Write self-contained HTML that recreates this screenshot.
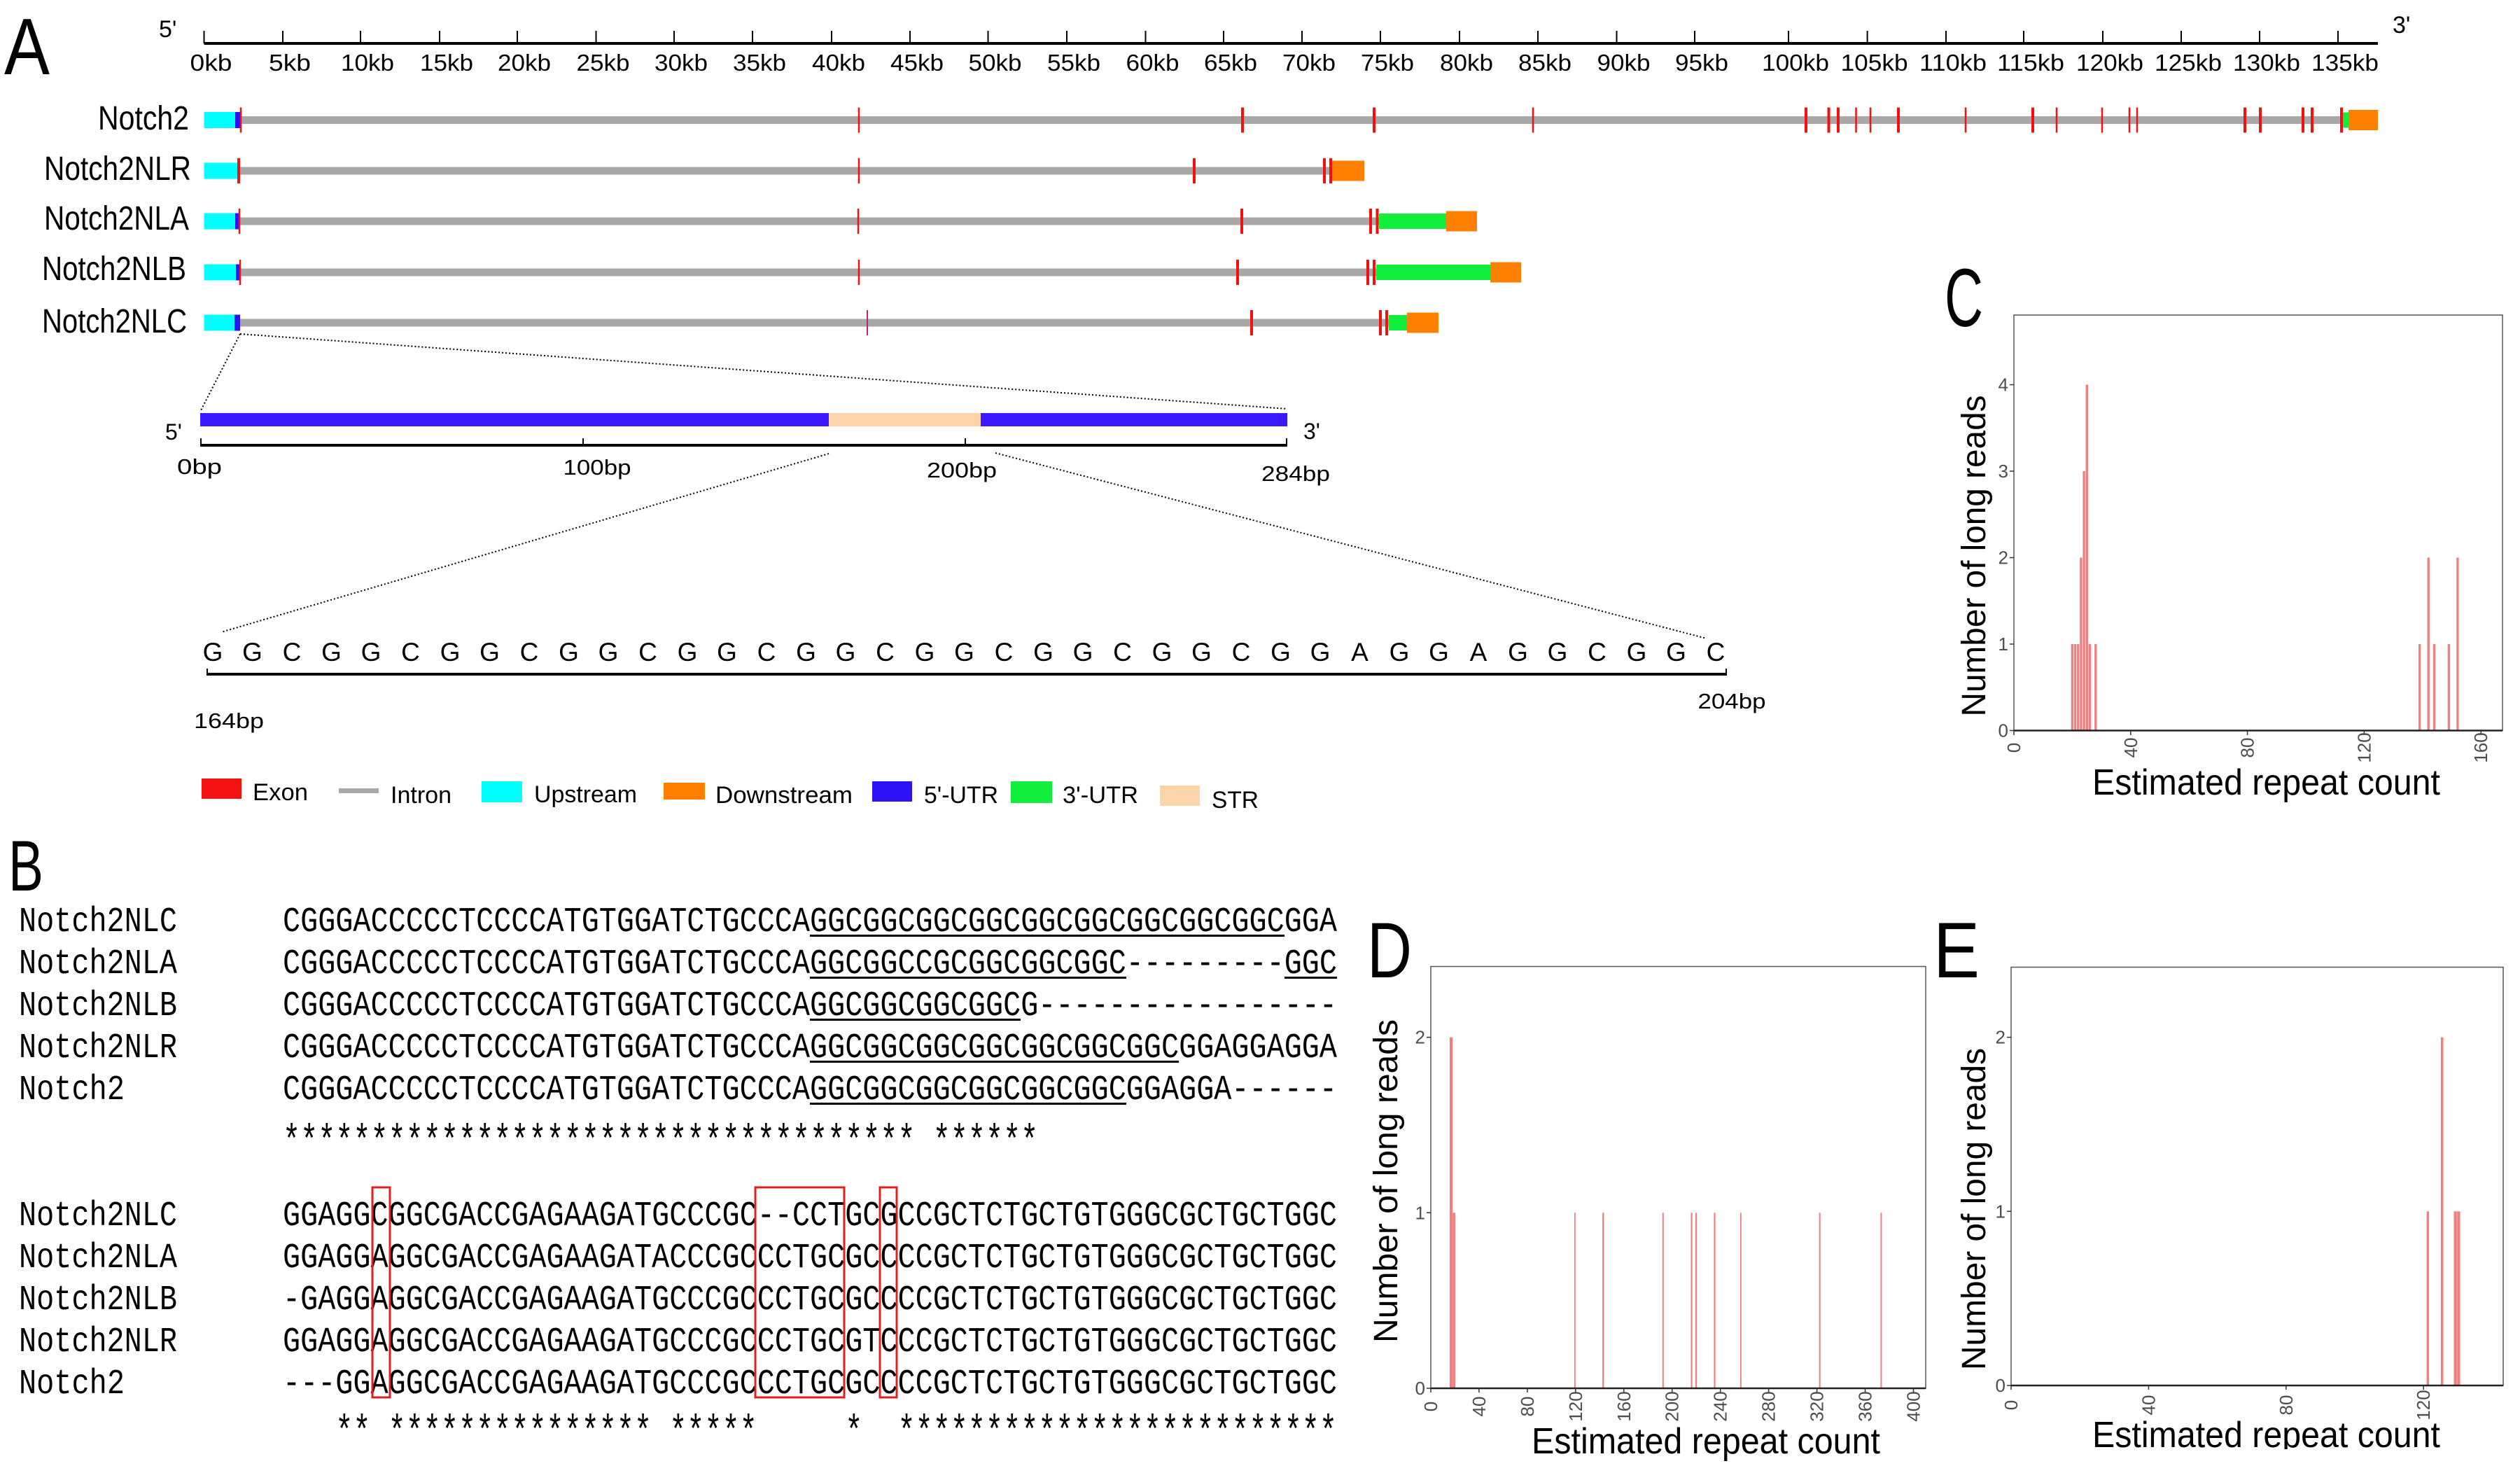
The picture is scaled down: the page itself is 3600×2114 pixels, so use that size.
<!DOCTYPE html>
<html><head><meta charset="utf-8">
<style>html,body{margin:0;padding:0;background:#fff}svg{display:block}</style>
</head><body>
<svg width="3600" height="2114" viewBox="0 0 3600 2114" xmlns="http://www.w3.org/2000/svg" font-family="'Liberation Sans', Arial, sans-serif">
<rect width="3600" height="2114" fill="#fff"/>

<!-- ============ PANEL A ============ -->
<text x="6" y="106" font-size="114" textLength="65" lengthAdjust="spacingAndGlyphs">A</text>
<text x="227" y="53" font-size="34">5'</text>
<text x="3418" y="47" font-size="34">3'</text>
<line x1="291.5" y1="62" x2="3397" y2="62" stroke="#000" stroke-width="4"/>
<path d="M291.5 44V62M404 44V62M515 44V62M628 44V62M739 44V62M851.5 44V62M963 44V62M1075 44V62M1188 44V62M1300 44V62M1411.5 44V62M1524 44V62M1636.5 44V62M1748 44V62M1860 44V62M1972 44V62M2085 44V62M2197 44V62M2309.5 44V62M2421 44V62M2555 44V62M2667.6 44V62M2780 44V62M2891 44V62M3004 44V62M3116 44V62M3228 44V62M3340 44V62" stroke="#000" stroke-width="2" fill="none"/>
<g font-size="33" text-anchor="middle">
<text x="301.5" y="101" textLength="60" lengthAdjust="spacingAndGlyphs">0kb</text>
<text x="414" y="101" textLength="60" lengthAdjust="spacingAndGlyphs">5kb</text>
<text x="525" y="101" textLength="76" lengthAdjust="spacingAndGlyphs">10kb</text>
<text x="638" y="101" textLength="76" lengthAdjust="spacingAndGlyphs">15kb</text>
<text x="749" y="101" textLength="76" lengthAdjust="spacingAndGlyphs">20kb</text>
<text x="861.5" y="101" textLength="76" lengthAdjust="spacingAndGlyphs">25kb</text>
<text x="973" y="101" textLength="76" lengthAdjust="spacingAndGlyphs">30kb</text>
<text x="1085" y="101" textLength="76" lengthAdjust="spacingAndGlyphs">35kb</text>
<text x="1198" y="101" textLength="76" lengthAdjust="spacingAndGlyphs">40kb</text>
<text x="1310" y="101" textLength="76" lengthAdjust="spacingAndGlyphs">45kb</text>
<text x="1421.5" y="101" textLength="76" lengthAdjust="spacingAndGlyphs">50kb</text>
<text x="1534" y="101" textLength="76" lengthAdjust="spacingAndGlyphs">55kb</text>
<text x="1646.5" y="101" textLength="76" lengthAdjust="spacingAndGlyphs">60kb</text>
<text x="1758" y="101" textLength="76" lengthAdjust="spacingAndGlyphs">65kb</text>
<text x="1870" y="101" textLength="76" lengthAdjust="spacingAndGlyphs">70kb</text>
<text x="1982" y="101" textLength="76" lengthAdjust="spacingAndGlyphs">75kb</text>
<text x="2095" y="101" textLength="76" lengthAdjust="spacingAndGlyphs">80kb</text>
<text x="2207" y="101" textLength="76" lengthAdjust="spacingAndGlyphs">85kb</text>
<text x="2319.5" y="101" textLength="76" lengthAdjust="spacingAndGlyphs">90kb</text>
<text x="2431" y="101" textLength="76" lengthAdjust="spacingAndGlyphs">95kb</text>
<text x="2565" y="101" textLength="96" lengthAdjust="spacingAndGlyphs">100kb</text>
<text x="2677.6" y="101" textLength="96" lengthAdjust="spacingAndGlyphs">105kb</text>
<text x="2790" y="101" textLength="96" lengthAdjust="spacingAndGlyphs">110kb</text>
<text x="2901" y="101" textLength="96" lengthAdjust="spacingAndGlyphs">115kb</text>
<text x="3014" y="101" textLength="96" lengthAdjust="spacingAndGlyphs">120kb</text>
<text x="3126" y="101" textLength="96" lengthAdjust="spacingAndGlyphs">125kb</text>
<text x="3238" y="101" textLength="96" lengthAdjust="spacingAndGlyphs">130kb</text>
<text x="3350" y="101" textLength="96" lengthAdjust="spacingAndGlyphs">135kb</text>
</g>

<!-- gene labels -->
<g font-size="48">
<text x="140" y="185" textLength="130" lengthAdjust="spacingAndGlyphs">Notch2</text>
<text x="63" y="257" textLength="210" lengthAdjust="spacingAndGlyphs">Notch2NLR</text>
<text x="63" y="328" textLength="207" lengthAdjust="spacingAndGlyphs">Notch2NLA</text>
<text x="60" y="400" textLength="206" lengthAdjust="spacingAndGlyphs">Notch2NLB</text>
<text x="60" y="475" textLength="207" lengthAdjust="spacingAndGlyphs">Notch2NLC</text>
</g>

<!-- Notch2 row -->
<g transform="translate(0,171.5)">
<rect x="342" y="-5.5" width="3005" height="11" fill="#a8a8a8"/>
<rect x="291.5" y="-11.5" width="50.5" height="23" fill="#00ffff"/>
<rect x="336" y="-11.5" width="7" height="23" fill="#2e12f6"/>
<path d="M344 -18V18M1227 -18V18M2190 -18V18M2651.5 -18V18M2672 -18V18M2808 -18V18M2938 -18V18M3003 -18V18M3042 -18V18M3053 -18V18" stroke="#f21010" stroke-width="2.5"/>
<path d="M1775 -18V18M1963 -18V18M2580 -18V18M2612.5 -18V18M2626 -18V18M2712 -18V18M2904 -18V18M3207 -18V18M3229 -18V18M3290 -18V18M3303 -18V18M3345 -18V18" stroke="#f21010" stroke-width="4"/>
<rect x="3347" y="-11" width="8" height="22" fill="#12ee3c"/>
<rect x="3355" y="-14.5" width="42" height="29" fill="#ff8000"/>
</g>
<!-- NLR row -->
<g transform="translate(0,244)">
<rect x="342" y="-5.5" width="1561" height="11" fill="#a8a8a8"/>
<rect x="291.5" y="-11.5" width="50.5" height="23" fill="#00ffff"/>
<path d="M1227 -18V18" stroke="#f21010" stroke-width="2.5"/>
<path d="M341 -18V18M1706 -18V18M1892 -18V18M1901 -18V18" stroke="#f21010" stroke-width="4"/>
<rect x="1903" y="-14.5" width="46" height="29" fill="#ff8000"/>
</g>
<!-- NLA row -->
<g transform="translate(0,316)">
<rect x="342" y="-5.5" width="1628" height="11" fill="#a8a8a8"/>
<rect x="291.5" y="-11.5" width="50.5" height="23" fill="#00ffff"/>
<rect x="336" y="-11.5" width="7" height="23" fill="#2e12f6"/>
<path d="M342 -18V18M1226 -18V18" stroke="#f21010" stroke-width="2.5"/>
<path d="M1774 -18V18M1958 -18V18M1967.5 -18V18" stroke="#f21010" stroke-width="4"/>
<rect x="1970" y="-11" width="96" height="22" fill="#12ee3c"/>
<rect x="2066" y="-14.5" width="44" height="29" fill="#ff8000"/>
</g>
<!-- NLB row -->
<g transform="translate(0,389)">
<rect x="342" y="-5.5" width="1624" height="11" fill="#a8a8a8"/>
<rect x="291.5" y="-11.5" width="50.5" height="23" fill="#00ffff"/>
<rect x="337" y="-11.5" width="5" height="23" fill="#2e12f6"/>
<path d="M343 -18V18M1227 -18V18" stroke="#f21010" stroke-width="2.5"/>
<path d="M1768 -18V18M1954 -18V18M1963 -18V18" stroke="#f21010" stroke-width="4"/>
<rect x="1966" y="-11" width="163" height="22" fill="#12ee3c"/>
<rect x="2129" y="-14.5" width="44" height="29" fill="#ff8000"/>
</g>
<!-- NLC row -->
<g transform="translate(0,461)">
<rect x="342" y="-5.5" width="1642" height="11" fill="#a8a8a8"/>
<rect x="291.5" y="-11.5" width="44" height="23" fill="#00ffff"/>
<rect x="335" y="-11.5" width="8" height="23" fill="#2e12f6"/>
<path d="M1239 -18V18" stroke="#c02070" stroke-width="2"/>
<path d="M1788 -18V18M1972 -18V18M1981 -18V18" stroke="#f21010" stroke-width="4"/>
<rect x="1984" y="-11" width="26" height="22" fill="#12ee3c"/>
<rect x="2010" y="-14.5" width="45" height="29" fill="#ff8000"/>
</g>

<!-- dotted zoom lines -->
<path d="M343 477L286 588M343 477L1839 584M1184 648L316 903M1422 647L2438 912" stroke="#000" stroke-width="2" stroke-dasharray="2 3" fill="none"/>

<!-- 284bp bar -->
<rect x="286" y="590" width="1553" height="19" fill="#3b18ff"/>
<rect x="1184" y="590" width="217" height="19" fill="#fdd3aa"/>
<text x="236" y="628" font-size="32">5'</text>
<text x="1862" y="627" font-size="32">3'</text>
<line x1="286" y1="636" x2="1839" y2="636" stroke="#000" stroke-width="4"/>
<path d="M287 626V636M833 626V636M1379 626V636M1838 626V636" stroke="#000" stroke-width="2"/>
<g font-size="31" text-anchor="middle">
<text x="285" y="677" textLength="64" lengthAdjust="spacingAndGlyphs">0bp</text>
<text x="853" y="678" textLength="97" lengthAdjust="spacingAndGlyphs">100bp</text>
<text x="1374" y="682" textLength="100" lengthAdjust="spacingAndGlyphs">200bp</text>
<text x="1851" y="687" textLength="98" lengthAdjust="spacingAndGlyphs">284bp</text>
</g>

<!-- sequence -->
<text font-size="37" text-anchor="middle" y="944" x="304 360.5 417 473.5 530 586.5 643 699.5 756 812.5 869 925.5 982 1038.5 1095 1151.5 1208 1264.5 1321 1377.5 1434 1490.5 1547 1603.5 1660 1716.5 1773 1829.5 1886 1942.5 1999 2055.5 2112 2168.5 2225 2281.5 2338 2394.5 2451">GGCGGCGGCGGCGGCGGCGGCGGCGGCGGAGGAGGCGGC</text>
<line x1="295" y1="963" x2="2467" y2="963" stroke="#000" stroke-width="4"/>
<path d="M296 955V964M2466 955V964" stroke="#000" stroke-width="2"/>
<text x="327" y="1040" font-size="31" text-anchor="middle" textLength="100" lengthAdjust="spacingAndGlyphs">164bp</text>
<text x="2474" y="1012" font-size="31" text-anchor="middle" textLength="97" lengthAdjust="spacingAndGlyphs">204bp</text>

<!-- legend -->
<rect x="288" y="1112" width="57" height="29" fill="#f21010"/>
<text x="361" y="1143" font-size="34" textLength="79" lengthAdjust="spacingAndGlyphs">Exon</text>
<rect x="484" y="1126" width="57" height="7" fill="#a8a8a8"/>
<text x="558" y="1147" font-size="34" textLength="87" lengthAdjust="spacingAndGlyphs">Intron</text>
<rect x="688" y="1116" width="58" height="30" fill="#00ffff"/>
<text x="763" y="1146" font-size="34" textLength="147" lengthAdjust="spacingAndGlyphs">Upstream</text>
<rect x="948" y="1118" width="59" height="24" fill="#ff8000"/>
<text x="1022" y="1147" font-size="34" textLength="196" lengthAdjust="spacingAndGlyphs">Downstream</text>
<rect x="1246" y="1116" width="57" height="29" fill="#2e12f6"/>
<text x="1320" y="1147" font-size="34" textLength="106" lengthAdjust="spacingAndGlyphs">5'-UTR</text>
<rect x="1444" y="1116" width="59" height="31" fill="#12ee3c"/>
<text x="1518" y="1147" font-size="34" textLength="108" lengthAdjust="spacingAndGlyphs">3'-UTR</text>
<rect x="1657" y="1122" width="57" height="29" fill="#fdd3aa"/>
<text x="1731" y="1154" font-size="34" textLength="67" lengthAdjust="spacingAndGlyphs">STR</text>

<!-- ============ PANEL B ============ -->
<text x="12" y="1272" font-size="102" textLength="50" lengthAdjust="spacingAndGlyphs">B</text>
<g font-family="'Liberation Mono', 'DejaVu Sans Mono', monospace" font-size="50">
<text x="27" y="1330" textLength="226" lengthAdjust="spacingAndGlyphs">Notch2NLC</text>
<text x="27" y="1390" textLength="226" lengthAdjust="spacingAndGlyphs">Notch2NLA</text>
<text x="27" y="1450" textLength="226" lengthAdjust="spacingAndGlyphs">Notch2NLB</text>
<text x="27" y="1510" textLength="226" lengthAdjust="spacingAndGlyphs">Notch2NLR</text>
<text x="27" y="1570" textLength="151" lengthAdjust="spacingAndGlyphs">Notch2</text>
<text x="404" y="1330" textLength="1506" lengthAdjust="spacingAndGlyphs">CGGGACCCCCTCCCCATGTGGATCTGCCCAGGCGGCGGCGGCGGCGGCGGCGGCGGCGGA</text>
<text x="404" y="1390" textLength="1506" lengthAdjust="spacingAndGlyphs">CGGGACCCCCTCCCCATGTGGATCTGCCCAGGCGGCCGCGGCGGCGGC---------GGC</text>
<text x="404" y="1450" textLength="1506" lengthAdjust="spacingAndGlyphs">CGGGACCCCCTCCCCATGTGGATCTGCCCAGGCGGCGGCGGCG-----------------</text>
<text x="404" y="1510" textLength="1506" lengthAdjust="spacingAndGlyphs">CGGGACCCCCTCCCCATGTGGATCTGCCCAGGCGGCGGCGGCGGCGGCGGCGGAGGAGGA</text>
<text x="404" y="1570" textLength="1506" lengthAdjust="spacingAndGlyphs">CGGGACCCCCTCCCCATGTGGATCTGCCCAGGCGGCGGCGGCGGCGGCGGAGGA------</text>

<text x="27" y="1750" textLength="226" lengthAdjust="spacingAndGlyphs">Notch2NLC</text>
<text x="27" y="1810" textLength="226" lengthAdjust="spacingAndGlyphs">Notch2NLA</text>
<text x="27" y="1870" textLength="226" lengthAdjust="spacingAndGlyphs">Notch2NLB</text>
<text x="27" y="1930" textLength="226" lengthAdjust="spacingAndGlyphs">Notch2NLR</text>
<text x="27" y="1990" textLength="151" lengthAdjust="spacingAndGlyphs">Notch2</text>
<text x="404" y="1750" textLength="1506" lengthAdjust="spacingAndGlyphs">GGAGGCGGCGACCGAGAAGATGCCCGC--CCTGCGCCGCTCTGCTGTGGGCGCTGCTGGC</text>
<text x="404" y="1810" textLength="1506" lengthAdjust="spacingAndGlyphs">GGAGGAGGCGACCGAGAAGATACCCGCCCTGCGCCCCGCTCTGCTGTGGGCGCTGCTGGC</text>
<text x="404" y="1870" textLength="1506" lengthAdjust="spacingAndGlyphs">-GAGGAGGCGACCGAGAAGATGCCCGCCCTGCGCCCCGCTCTGCTGTGGGCGCTGCTGGC</text>
<text x="404" y="1930" textLength="1506" lengthAdjust="spacingAndGlyphs">GGAGGAGGCGACCGAGAAGATGCCCGCCCTGCGTCCCGCTCTGCTGTGGGCGCTGCTGGC</text>
<text x="404" y="1990" textLength="1506" lengthAdjust="spacingAndGlyphs">---GGAGGCGACCGAGAAGATGCCCGCCCTGCGCCCCGCTCTGCTGTGGGCGCTGCTGGC</text>
</g>
<g font-family="'Liberation Mono', 'DejaVu Sans Mono', monospace" font-size="60">
<text x="404" y="1648" textLength="903.6" lengthAdjust="spacingAndGlyphs">************************************</text>
<text x="1332.7" y="1648" textLength="150.6" lengthAdjust="spacingAndGlyphs">******</text>
<text x="479.3" y="2063" textLength="50.2" lengthAdjust="spacingAndGlyphs">**</text>
<text x="554.6" y="2063" textLength="376.5" lengthAdjust="spacingAndGlyphs">***************</text>
<text x="956.2" y="2063" textLength="125.5" lengthAdjust="spacingAndGlyphs">*****</text>
<text x="1207.2" y="2063" textLength="25.1" lengthAdjust="spacingAndGlyphs">*</text>
<text x="1282.5" y="2063" textLength="627.5" lengthAdjust="spacingAndGlyphs">*************************</text>
</g>
<!-- underlines -->
<g fill="#000">
<rect x="1157" y="1335" width="678" height="3"/>
<rect x="1157" y="1395" width="452" height="3"/>
<rect x="1835" y="1395" width="75" height="3"/>
<rect x="1157" y="1455" width="301" height="3"/>
<rect x="1157" y="1515" width="527" height="3"/>
<rect x="1157" y="1575" width="452" height="3"/>
</g>
<!-- red boxes -->
<g fill="none" stroke="#e02020" stroke-width="3">
<rect x="532" y="1696" width="25" height="300"/>
<rect x="1079" y="1696" width="127" height="300"/>
<rect x="1257" y="1696" width="24" height="300"/>
</g>

<!-- ============ PANEL C ============ -->
<text x="2778" y="466" font-size="118" textLength="55" lengthAdjust="spacingAndGlyphs">C</text>
<g fill="#f08080">
<rect x="2958.7" y="920" width="3.4" height="123.5"/>
<rect x="2962.9" y="920" width="3.4" height="123.5"/>
<rect x="2967.1" y="920" width="3.4" height="123.5"/>
<rect x="2971.2" y="796.5" width="3.4" height="247"/>
<rect x="2975.4" y="673" width="3.4" height="370.5"/>
<rect x="2979.6" y="549.5" width="3.4" height="494"/>
<rect x="2983.8" y="920" width="3.4" height="123.5"/>
<rect x="2992.1" y="920" width="3.4" height="123.5"/>
<rect x="3455" y="920" width="3.4" height="123.5"/>
<rect x="3467.5" y="796.5" width="3.4" height="247"/>
<rect x="3475.8" y="920" width="3.4" height="123.5"/>
<rect x="3496.7" y="920" width="3.4" height="123.5"/>
<rect x="3509.2" y="796.5" width="3.4" height="247"/>
</g>
<rect x="2877" y="450" width="698" height="593.5" fill="none" stroke="#555" stroke-width="1.5"/>
<line x1="2877" y1="1043.5" x2="3575" y2="1043.5" stroke="#222" stroke-width="2.5"/>
<path d="M2871 1043.5H2877M2871 920H2877M2871 796.5H2877M2871 673H2877M2871 549.5H2877M2877 1043.5V1050M3043.8 1043.5V1050M3210.6 1043.5V1050M3377.4 1043.5V1050M3544.2 1043.5V1050" stroke="#333" stroke-width="1.5"/>
<g font-size="26" fill="#4d4d4d">
<g text-anchor="end">
<text x="2869" y="1052.5">0</text>
<text x="2869" y="929">1</text>
<text x="2869" y="805.5">2</text>
<text x="2869" y="682">3</text>
<text x="2869" y="558.5">4</text>
</g>
<g text-anchor="middle">
<text transform="translate(2886,1068) rotate(-90)">0</text>
<text transform="translate(3052.8,1068) rotate(-90)">40</text>
<text transform="translate(3219.6,1068) rotate(-90)">80</text>
<text transform="translate(3386.4,1068) rotate(-90)">120</text>
<text transform="translate(3553.2,1068) rotate(-90)">160</text>
</g>
</g>
<text transform="translate(2836,794) rotate(-90)" font-size="48" text-anchor="middle" textLength="459" lengthAdjust="spacingAndGlyphs">Number of long reads</text>
<text x="3237.5" y="1135" font-size="52" text-anchor="middle" textLength="497" lengthAdjust="spacingAndGlyphs">Estimated repeat count</text>

<!-- ============ PANEL D ============ -->
<text x="1953" y="1396" font-size="112" textLength="64" lengthAdjust="spacingAndGlyphs">D</text>
<g fill="#f08080">
<rect x="2071" y="1481.6" width="4.2" height="501.4"/>
<rect x="2075.2" y="1732.3" width="3.8" height="250.7"/>
<rect x="2249" y="1732.3" width="1.8" height="250.7"/>
<rect x="2289.1" y="1732.3" width="2.2" height="250.7"/>
<rect x="2374.8" y="1732.3" width="2" height="250.7"/>
<rect x="2415.5" y="1732.3" width="2.2" height="250.7"/>
<rect x="2422" y="1732.3" width="2.2" height="250.7"/>
<rect x="2448.4" y="1732.3" width="2.2" height="250.7"/>
<rect x="2486" y="1732.3" width="1.8" height="250.7"/>
<rect x="2598.7" y="1732.3" width="2" height="250.7"/>
<rect x="2686.4" y="1732.3" width="2" height="250.7"/>
</g>
<rect x="2044" y="1380.5" width="707" height="602.5" fill="none" stroke="#555" stroke-width="1.5"/>
<line x1="2044" y1="1983" x2="2751" y2="1983" stroke="#222" stroke-width="2.5"/>
<path d="M2038 1983H2044M2038 1732.3H2044M2038 1481.6H2044M2044 1983V1989M2112.9 1983V1989M2181.9 1983V1989M2250.8 1983V1989M2319.8 1983V1989M2388.7 1983V1989M2457.7 1983V1989M2526.6 1983V1989M2595.6 1983V1989M2664.5 1983V1989M2733.5 1983V1989" stroke="#333" stroke-width="1.5"/>
<g font-size="26" fill="#4d4d4d">
<g text-anchor="end">
<text x="2036" y="1992">0</text>
<text x="2036" y="1741.3">1</text>
<text x="2036" y="1490.6">2</text>
</g>
<g text-anchor="middle">
<text transform="translate(2053,2009) rotate(-90)">0</text>
<text transform="translate(2121.9,2009) rotate(-90)">40</text>
<text transform="translate(2190.9,2009) rotate(-90)">80</text>
<text transform="translate(2259.8,2009) rotate(-90)">120</text>
<text transform="translate(2328.8,2009) rotate(-90)">160</text>
<text transform="translate(2397.7,2009) rotate(-90)">200</text>
<text transform="translate(2466.7,2009) rotate(-90)">240</text>
<text transform="translate(2535.6,2009) rotate(-90)">280</text>
<text transform="translate(2604.6,2009) rotate(-90)">320</text>
<text transform="translate(2673.5,2009) rotate(-90)">360</text>
<text transform="translate(2742.5,2009) rotate(-90)">400</text>
</g>
</g>
<text transform="translate(1996,1687) rotate(-90)" font-size="48" text-anchor="middle" textLength="462" lengthAdjust="spacingAndGlyphs">Number of long reads</text>
<text x="2437" y="2076" font-size="52" text-anchor="middle" textLength="498" lengthAdjust="spacingAndGlyphs">Estimated repeat count</text>

<!-- ============ PANEL E ============ -->
<text x="2762" y="1396" font-size="112" textLength="66" lengthAdjust="spacingAndGlyphs">E</text>
<g fill="#f08080">
<rect x="3466.6" y="1730.3" width="3.4" height="248.7"/>
<rect x="3486.9" y="1481.6" width="3.6" height="497.4"/>
<rect x="3505.5" y="1730.3" width="4.3" height="248.7"/>
<rect x="3510.2" y="1730.3" width="4.3" height="248.7"/>
</g>
<rect x="2873" y="1381.5" width="703" height="597.5" fill="none" stroke="#555" stroke-width="1.5"/>
<line x1="2873" y1="1979" x2="3576" y2="1979" stroke="#222" stroke-width="2.5"/>
<path d="M2867 1979H2873M2867 1730.3H2873M2867 1481.6H2873M2873 1979V1985M3069.4 1979V1985M3265.8 1979V1985M3462.2 1979V1985" stroke="#333" stroke-width="1.5"/>
<g font-size="26" fill="#4d4d4d">
<g text-anchor="end">
<text x="2865" y="1988">0</text>
<text x="2865" y="1739.3">1</text>
<text x="2865" y="1490.6">2</text>
</g>
<g text-anchor="middle">
<text transform="translate(2882,2007) rotate(-90)">0</text>
<text transform="translate(3078.4,2007) rotate(-90)">40</text>
<text transform="translate(3274.8,2007) rotate(-90)">80</text>
<text transform="translate(3471.2,2007) rotate(-90)">120</text>
</g>
</g>
<text transform="translate(2836,1727) rotate(-90)" font-size="48" text-anchor="middle" textLength="460" lengthAdjust="spacingAndGlyphs">Number of long reads</text>
<text x="3237.5" y="2067" font-size="52" text-anchor="middle" textLength="497" lengthAdjust="spacingAndGlyphs">Estimated repeat count</text>
<rect x="2770" y="2070" width="830" height="44" fill="#fff"/>
</svg>
</body></html>
